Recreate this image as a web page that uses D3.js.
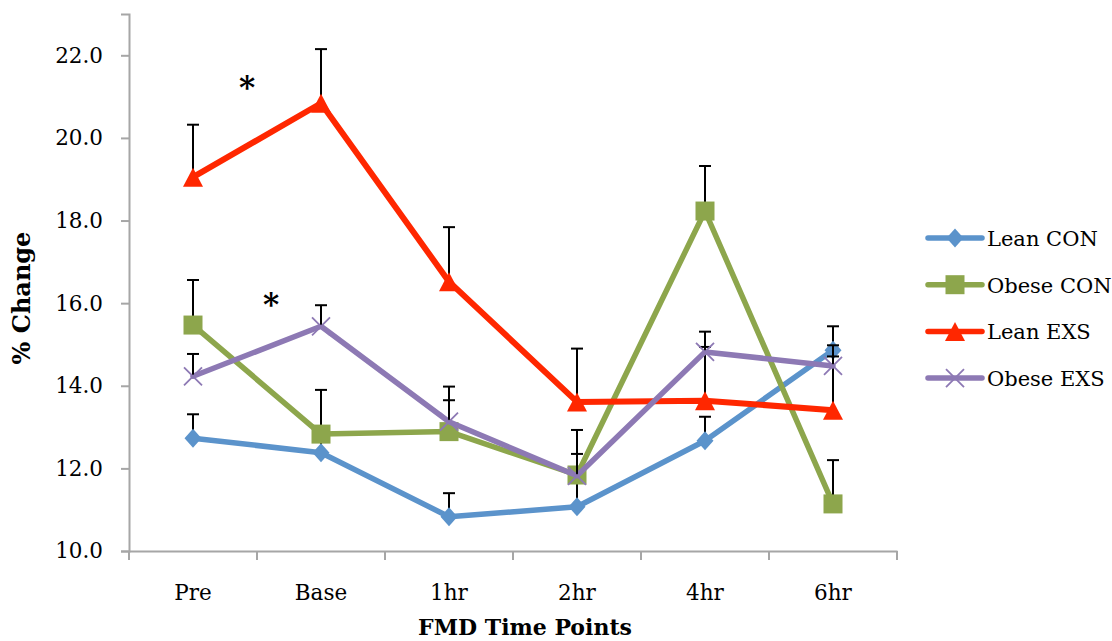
<!DOCTYPE html>
<html>
<head>
<meta charset="utf-8">
<script src="https://cdn.jsdelivr.net/npm/d3@7"></script>
<style>
  html, body { margin: 0; padding: 0; background: #fff; }
  svg { display: block; }
  text { font-family: "DejaVu Serif", "Liberation Serif", serif; fill: #000; }
</style>
</head>
<body>
<svg id="chart" width="1112" height="641"></svg>
<script>
// FMD time points and group means (% change) with upper SE bars
const categories = ["Pre", "Base", "1hr", "2hr", "4hr", "6hr"];

const leanCON     = [12.73, 12.38, 10.83, 11.07, 12.67, 14.86];
const leanCONErr  = [0.58, 0.58, 0.57, 0.60, 0.58, 0.58];

const obeseCON    = [15.47, 12.83, 12.89, 11.84, 18.23, 11.14];
const obeseCONErr = [1.09, 1.07, 1.09, 1.09, 1.09, 1.06];

const leanEXS     = [19.05, 20.84, 16.52, 13.61, 13.64, 13.41];
const leanEXSErr  = [1.27, 1.31, 1.32, 1.29, 1.30, 1.30];

const obeseEXS    = [14.23, 15.44, 13.13, 11.82, 14.82, 14.48];
const obeseEXSErr = [0.54, 0.51, 0.52, 0.53, 0.49, 0.50];

const yTicks = [10, 12, 14, 16, 18, 20, 22];

const seriesNames = ["Lean CON", "Obese CON", "Lean EXS", "Obese EXS"];

// significance asterisks between Pre and Base: height in data units
const starLevels = [21.35, 16.1];
const starOffsets = [-10, 14]; // horizontal shift from the Pre/Base boundary

const series = [
  { name: seriesNames[0], values: leanCON,  err: leanCONErr,  color: "#5B93CB", marker: "diamond",  width: 5.5 },
  { name: seriesNames[1], values: obeseCON, err: obeseCONErr, color: "#8DA64C", marker: "square",   width: 5.5 },
  { name: seriesNames[2], values: leanEXS,  err: leanEXSErr,  color: "#FF2700", marker: "triangle", width: 6 },
  { name: seriesNames[3], values: obeseEXS, err: obeseEXSErr, color: "#8D79B4", marker: "x",        width: 5.5 }
];

const svg = d3.select("#chart");
const plot = { left: 129, right: 897, top: 14, bottom: 551 };
const axisColor = "#A6A6A6";

const x = d3.scaleBand().domain(categories).range([plot.left, plot.right]).padding(0);
const cx = c => x(c) + x.bandwidth() / 2;
const y = d3.scaleLinear().domain([10, 23]).range([plot.bottom, plot.top]);

// ---- axes ----
const yAxis = d3.axisLeft(y).tickValues(yTicks).tickFormat(d3.format(".1f")).tickSize(8).tickPadding(18);
const gy = svg.append("g").attr("transform", `translate(${plot.left},0)`).call(yAxis);
gy.select(".domain").attr("stroke", axisColor).attr("stroke-width", 2);
gy.selectAll(".tick line").attr("stroke", axisColor).attr("stroke-width", 2);
gy.selectAll(".tick text").style("font-size", "21.5px").attr("font-family", "DejaVu Serif").attr("fill", "#000");

const xAxis = d3.axisBottom(x).tickSize(0).tickPadding(34);
const gx = svg.append("g").attr("transform", `translate(0,${plot.bottom})`).call(xAxis);
gx.select(".domain").attr("stroke", axisColor).attr("stroke-width", 2);
gx.selectAll(".tick text").style("font-size", "21.5px").attr("font-family", "DejaVu Serif").attr("fill", "#000");

// category boundary ticks below the x axis
const bounds = categories.map(c => x(c)).concat([plot.right]);
gx.selectAll("line.bound").data(bounds).enter().append("line")
  .attr("class", "bound")
  .attr("x1", d => d).attr("x2", d => d)
  .attr("y1", 0).attr("y2", 9)
  .attr("stroke", axisColor).attr("stroke-width", 2);

// axis titles
svg.append("text")
  .attr("x", 525).attr("y", 635)
  .attr("text-anchor", "middle")
  .style("font-size", "22px").style("font-weight", "bold")
  .text("FMD Time Points");

svg.append("text")
  .attr("transform", "translate(30,298) rotate(-90)")
  .attr("text-anchor", "middle")
  .style("font-size", "24px").style("font-weight", "bold")
  .text("% Change");

// ---- marker shapes ----
function drawMarker(g, type, color) {
  if (type === "diamond") {
    g.append("path").attr("d", "M0,-9.5L8.5,0L0,9.5L-8.5,0Z").attr("fill", color);
  } else if (type === "square") {
    g.append("rect").attr("x", -9.5).attr("y", -9.5).attr("width", 19).attr("height", 19).attr("fill", color);
  } else if (type === "triangle") {
    g.append("path").attr("d", "M0,-9.5L10,9.5L-10,9.5Z").attr("fill", color);
  } else if (type === "x") {
    g.append("path").attr("d", "M-9,-9L9,9M-9,9L9,-9")
      .attr("stroke", color).attr("stroke-width", 1.8).attr("fill", "none");
  }
}

const line = d3.line().x((d, i) => cx(categories[i])).y(d => y(d));

// series lines, then error bars, then markers
series.forEach(s => {
  const g = svg.append("g");
  g.append("path")
    .attr("d", line(s.values))
    .attr("fill", "none")
    .attr("stroke", s.color)
    .attr("stroke-width", s.width)
    .attr("stroke-linejoin", "round")
    .attr("stroke-linecap", "round");

  const eb = g.selectAll("g.err").data(s.values).enter().append("g").attr("class", "err");
  eb.append("line")
    .attr("x1", (d, i) => cx(categories[i])).attr("x2", (d, i) => cx(categories[i]))
    .attr("y1", d => y(d)).attr("y2", (d, i) => y(d + s.err[i]))
    .attr("stroke", "#000").attr("stroke-width", 2);
  eb.append("line")
    .attr("x1", (d, i) => cx(categories[i]) - 6).attr("x2", (d, i) => cx(categories[i]) + 6)
    .attr("y1", (d, i) => y(d + s.err[i])).attr("y2", (d, i) => y(d + s.err[i]))
    .attr("stroke", "#000").attr("stroke-width", 2);

  s.values.forEach((v, i) => {
    const m = g.append("g").attr("transform", `translate(${cx(categories[i])},${y(v)})`);
    drawMarker(m, s.marker, s.color);
  });
});

// significance asterisks
starLevels.forEach((lvl, i) => {
  svg.append("text")
    .attr("x", x("Base") + starOffsets[i]).attr("y", y(lvl) + 16)
    .attr("text-anchor", "middle")
    .style("font-size", "31px").style("font-weight", "bold")
    .text("*");
});

// ---- legend ----
const legend = svg.append("g").attr("transform", "translate(928,238)");
series.forEach((s, i) => {
  const row = legend.append("g").attr("transform", `translate(0,${i * 46.7})`);
  row.append("line")
    .attr("x1", 0).attr("x2", 54).attr("y1", 0).attr("y2", 0)
    .attr("stroke", s.color).attr("stroke-width", 5.5).attr("stroke-linecap", "round");
  const m = row.append("g").attr("transform", "translate(27,0)");
  drawMarker(m, s.marker, s.color);
  row.append("text")
    .attr("x", 59).attr("y", 8)
    .style("font-size", "21px")
    .text(s.name);
});
</script>
</body>
</html>
